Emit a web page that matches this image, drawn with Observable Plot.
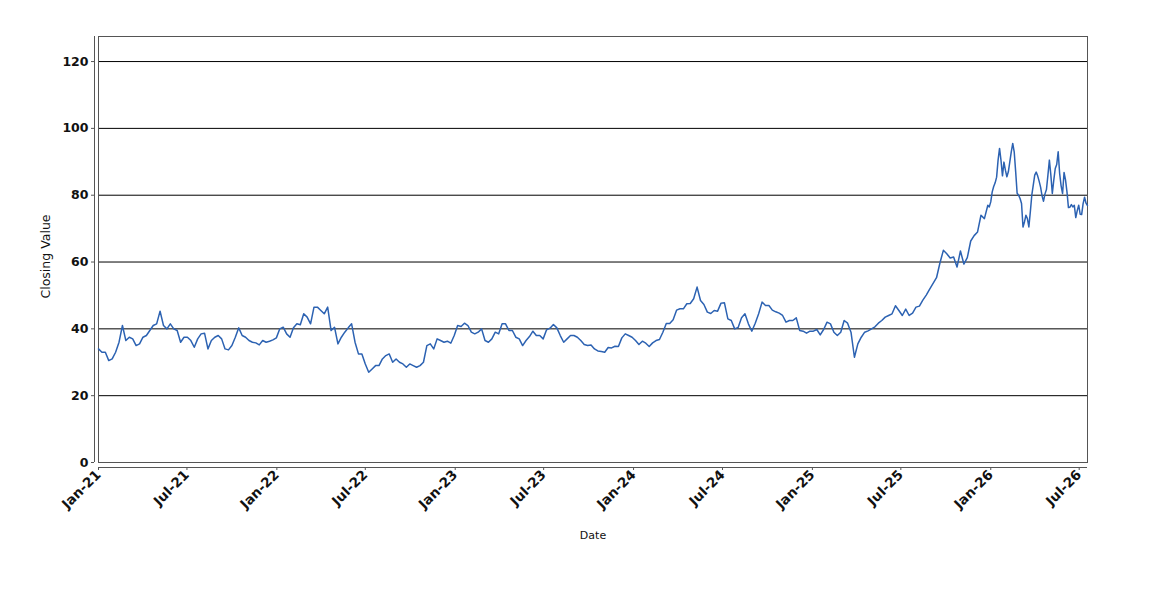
<!DOCTYPE html>
<html>
<head>
<meta charset="utf-8">
<script src="https://cdn.jsdelivr.net/npm/d3@7"></script>
<script src="https://cdn.jsdelivr.net/npm/@observablehq/plot@0.6"></script>
<style>
  body { margin: 0; background: #fff; }
</style>
</head>
<body>
<div id="chart"></div>
<script>
// ---- data ----
const startDate = "2021-01-01";
const endDate = "2026-07-18";

// weekly closing values from 2021-01-01
const weeklyCloses = [
  34, 33, 33, 30.5, 31, 33, 36, 41, 36.5, 37.5,
  37, 35, 35.5, 37.5, 38, 39.5, 41, 41.5, 45.3, 41,
  40, 41.5, 40, 39.5, 36, 37.5, 37.5, 36.5, 34.5, 37,
  38.5, 38.7, 34, 36.5, 37.5, 38, 37, 34, 33.7, 35,
  37.5, 40.3, 38, 37.5, 36.5, 36, 35.8, 35.2, 36.5, 36,
  36.3, 36.7, 37.3, 40, 40.5, 38.5, 37.5, 40.3, 41.5, 41.2,
  44.5, 43.5, 41.5, 46.5, 46.5, 45.5, 44.5, 46.5, 39.5, 40.5,
  35.5, 37.5, 39, 40.3, 41.5, 36, 32.5, 32.5, 29.5, 27,
  28, 29, 29, 31, 32, 32.5, 30, 31, 30, 29.5,
  28.5, 29.5, 29, 28.5, 29, 30, 35, 35.5, 34, 37,
  36.5, 36, 36.3, 35.7, 38, 41, 40.7, 41.7, 41, 39,
  38.5, 39, 40, 36.5, 36, 37, 39, 38.5, 41.5, 41.5,
  39.5, 39.5, 37.5, 37, 35, 36.5, 37.7, 39.3, 38, 38,
  37, 39.7, 40.2, 41.3, 40.3, 38, 36, 37, 38, 38,
  37.5, 36.5, 35.3, 35, 35.2, 34, 33.4, 33.2, 33, 34.4,
  34.3, 34.8, 34.7, 37.3, 38.5, 38, 37.5, 36.5, 35.3, 36.3,
  35.7, 34.7, 35.8, 36.5, 36.8, 39, 41.6, 41.6, 42.7, 45.6,
  46, 46, 47.5, 47.6, 49, 52.5, 48.5, 47.3, 45, 44.6,
  45.5, 45.3, 47.7, 47.8, 43, 42.5, 40, 40.4, 43.3, 44.5,
  41.5, 39.3, 41.7, 44.5, 48, 47, 47, 45.6, 45.1, 44.7,
  44, 42, 42.5, 42.5, 43.3, 39.5, 39.3, 38.7, 39.3, 39.3,
  39.8, 38.2, 39.8, 42, 41.5, 39, 38, 39, 42.5, 41.7,
  39, 31.5, 35.5, 37.5, 39, 39.4, 40, 40.6, 41.7, 42.5,
  43.5, 44, 44.5, 46.9, 45.5, 44, 45.9, 44, 44.7, 46.5,
  46.8, 48.6, 50.1, 51.9, 53.6, 55.3, 59.7, 63.5, 62.5, 61.2,
  61.5, 58.5, 63.3, 59.4, 61.3, 66.3, 67.9, 69, 74, 73
];

// volatile final stretch, every 3 days from day 1820 (2025-12-26)
const lateStartOffsetDays = 1820;
const lateStepDays = 3;
const lateCloses = [
  77, 76.5, 78, 81, 82.6, 83.7, 85.4, 90.5, 94, 90.4,
  85.8, 89.9, 87.5, 85.5, 87, 90, 93, 95.5, 93, 87,
  80.6, 80, 79, 77.5, 70.5, 72, 74, 73, 70.5, 75,
  80, 83, 86, 86.9, 85.8, 84.2, 82.4, 79.8, 78.2, 80.4,
  81.7, 86, 90.5, 86, 80.5, 84.5, 88, 89.2, 93, 86.5,
  82.8, 80.5, 86.8, 84.6, 81, 76.3, 76.4, 77.2, 76.5, 77,
  73.3, 75.4, 77, 74.3, 74.2, 77.5, 79.4, 77.6, 76.9
];

const yTicks = [0, 20, 40, 60, 80, 100, 120];
const xTicks = [
  "2021-01-01", "2021-07-01", "2022-01-01", "2022-07-01",
  "2023-01-01", "2023-07-01", "2024-01-01", "2024-07-01",
  "2025-01-01", "2025-07-01", "2026-01-01", "2026-07-01"
];
const yLabel = "Closing Value";
const xLabel = "Date";

// ---- build table ----
const t0 = new Date(startDate + "T00:00:00Z");
const tEnd = new Date(endDate + "T00:00:00Z");
const rows = [
  ...weeklyCloses.map((v, i) => ({date: d3.utcDay.offset(t0, 7 * i), value: v})),
  ...lateCloses.map((v, j) => ({date: d3.utcDay.offset(t0, lateStartOffsetDays + lateStepDays * j), value: v}))
];
const xTickDates = xTicks.map(s => new Date(s + "T00:00:00Z"));

const chart = Plot.plot({
  width: 1150,
  height: 600,
  marginLeft: 98,
  marginRight: 63,
  marginTop: 36,
  marginBottom: 138,
  x: {type: "utc", domain: [t0, tEnd]},
  y: {domain: [0, 127.5]},
  style: {fontFamily: "DejaVu Sans", fontSize: "13px", color: "#111", background: "#fff"},
  marks: [
    Plot.gridY(yTicks.slice(1), {stroke: "#000", strokeOpacity: 1}),
    Plot.frame({stroke: "#555"}),
    Plot.ruleX([t0], {dx: -4, stroke: "#555"}),
    Plot.ruleY([0], {dy: 5, stroke: "#555"}),
    Plot.axisY(yTicks, {dx: -4, tickSize: 3, tickPadding: 3, label: null, fontSize: 12.5, fontWeight: "bold", stroke: "#555"}),
    Plot.axisX(xTickDates, {dy: 5, tickSize: 3, tickPadding: 2, tickRotate: -45, tickFormat: d3.utcFormat("%b-%y"), label: null, fontSize: 13.5, fontWeight: "bold", stroke: "#555"}),
    Plot.lineY(rows, {x: "date", y: "value", stroke: "#2c62b2", strokeWidth: 1.5}),
    Plot.text([yLabel], {text: d => d, frameAnchor: "left", dx: -53, dy: 7, rotate: -90, fontSize: 12.5, textAnchor: "middle", fill: "#111"}),
    Plot.text([xLabel], {text: d => d, frameAnchor: "bottom", dy: 76, fontSize: 11, textAnchor: "middle", fill: "#111"})
  ]
});
document.getElementById("chart").append(chart);
</script>
</body>
</html>
